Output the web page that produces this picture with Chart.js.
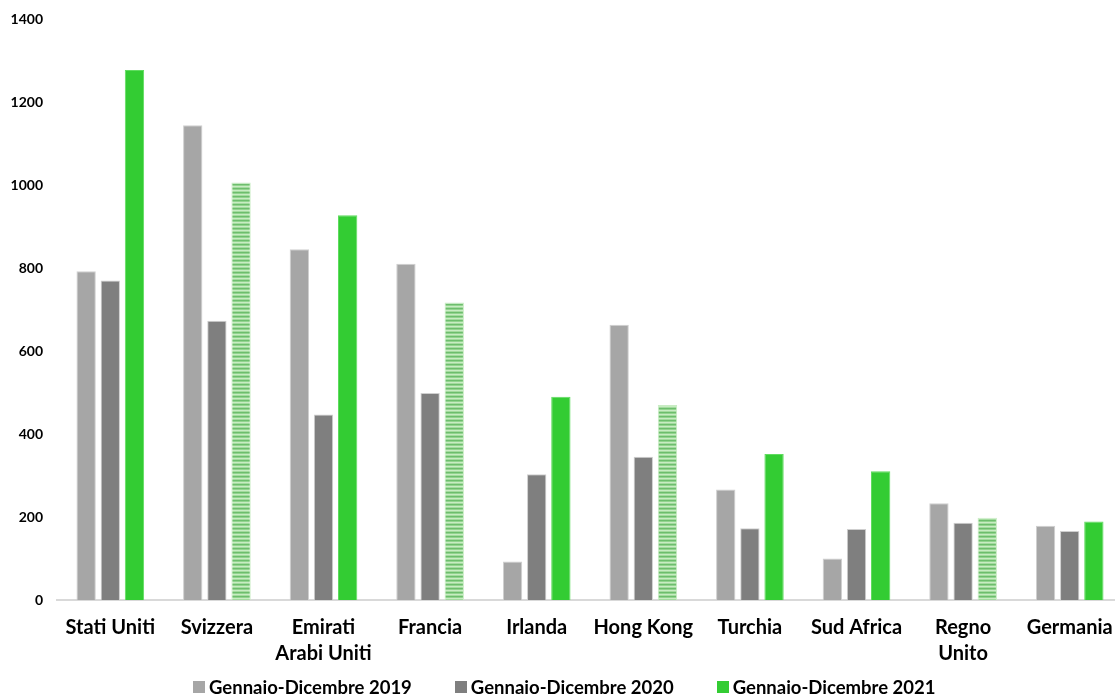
<!DOCTYPE html>
<html>
<head>
<meta charset="utf-8">
<script src="https://cdn.jsdelivr.net/npm/chart.js@4.4.0/dist/chart.umd.min.js"></script>
<style>
  html, body { margin: 0; padding: 0; background: #fff; }
  #wrap { width: 1115px; height: 696px; position: relative; overflow: hidden; }
  #inner { position: absolute; left: 0; top: 0; width: 1123px; height: 696px; }
  #legend {
    position: absolute; left: 193px; top: 676px; height: 22px;
    display: flex; align-items: center; gap: 43px;
    font-family: Lato, "Open Sans", sans-serif; font-weight: bold; font-size: 18.5px; color: #000;
  }
  .item { display: flex; align-items: center; white-space: nowrap; }
  .box { width: 12px; height: 12px; margin-right: 4px; }
</style>
</head>
<body>
<div id="wrap">
  <div id="inner"><canvas id="chart"></canvas></div>
  <div id="legend"></div>
</div>
<script>
const countries = ['Stati Uniti', 'Svizzera', ['Emirati', 'Arabi Uniti'], 'Francia', 'Irlanda',
  'Hong Kong', 'Turchia', 'Sud Africa', ['Regno', 'Unito'], 'Germania'];
const seriesNames = ['Gennaio-Dicembre 2019', 'Gennaio-Dicembre 2020', 'Gennaio-Dicembre 2021'];
const values2019 = [792, 1144, 845, 810, 93, 663, 266, 100, 233, 179];
const values2020 = [770, 673, 447, 499, 303, 345, 173, 171, 186, 166];
const values2021 = [1277, 1006, 927, 717, 490, 470, 352, 310, 198, 189];
// 2021 values shown with a striped fill in the source
const estimated2021 = [false, true, false, true, false, true, false, false, true, false];
const yTicks = [0, 200, 400, 600, 800, 1000, 1200, 1400];

const FONT = 'Lato, "Open Sans", sans-serif';
const colors = ['#a6a6a6', '#7f7f7f', '#33cc33'];

function stripePattern() {
  const c = document.createElement('canvas');
  c.width = 4; c.height = 4;
  const g = c.getContext('2d');
  const rows = ['#6dbd6d', '#92d48e', '#c8ecc3', '#a3db9e'];
  rows.forEach((col, i) => { g.fillStyle = col; g.fillRect(0, i, 4, 1); });
  return g.createPattern(c, 'repeat');
}

const stripes = stripePattern();

const ctx = document.getElementById('chart').getContext('2d');
const chart = new Chart(ctx, {
  type: 'bar',
  data: {
    labels: countries,
    datasets: [
      {
        label: seriesNames[0],
        data: values2019,
        backgroundColor: colors[0],
        borderColor: '#cfcfcf',
        borderWidth: 1
      },
      {
        label: seriesNames[1],
        data: values2020,
        backgroundColor: colors[1],
        borderColor: '#cfcfcf',
        borderWidth: 1
      },
      {
        label: seriesNames[2],
        data: values2021,
        backgroundColor: estimated2021.map(e => e ? stripes : colors[2]),
        borderColor: estimated2021.map(e => e ? '#c8ecc3' : '#5fdc5f'),
        borderWidth: 1
      }
    ]
  },
  options: {
    responsive: true,
    maintainAspectRatio: false,
    animation: false,
    layout: { autoPadding: false, padding: { top: 19, right: 0, bottom: 14, left: 0 } },
    datasets: { bar: { categoryPercentage: 0.68, barPercentage: 0.8 } },
    plugins: {
      tooltip: { enabled: false },
      legend: { display: false }
    },
    scales: {
      x: {
        afterFit: s => { s.paddingLeft = 0; s.paddingRight = 0; },
        grid: { display: false, drawTicks: false },
        border: { display: true, color: '#d9d9d9', width: 2 },
        ticks: {
          color: '#000',
          padding: 15,
          maxRotation: 0,
          autoSkip: false,
          font: { family: FONT, size: 20, weight: 'bold', lineHeight: 1.3 }
        }
      },
      y: {
        min: 0,
        max: 1400,
        afterBuildTicks: s => { s.ticks = yTicks.map(v => ({ value: v })); },
        afterFit: s => { s.width = 57; s.paddingTop = 0; s.paddingBottom = 0; },
        grid: { display: false, drawTicks: false },
        border: { display: false },
        ticks: {
          color: '#000',
          padding: 14,
          callback: v => String(v),
          font: { family: FONT, size: 14, weight: 'bold' }
        }
      }
    }
  }
});

document.getElementById('legend').innerHTML = chart.data.datasets.map((d, i) =>
  `<div class="item"><span class="box" style="background:${colors[i]}"></span>${d.label}</div>`
).join('');
</script>
</body>
</html>
